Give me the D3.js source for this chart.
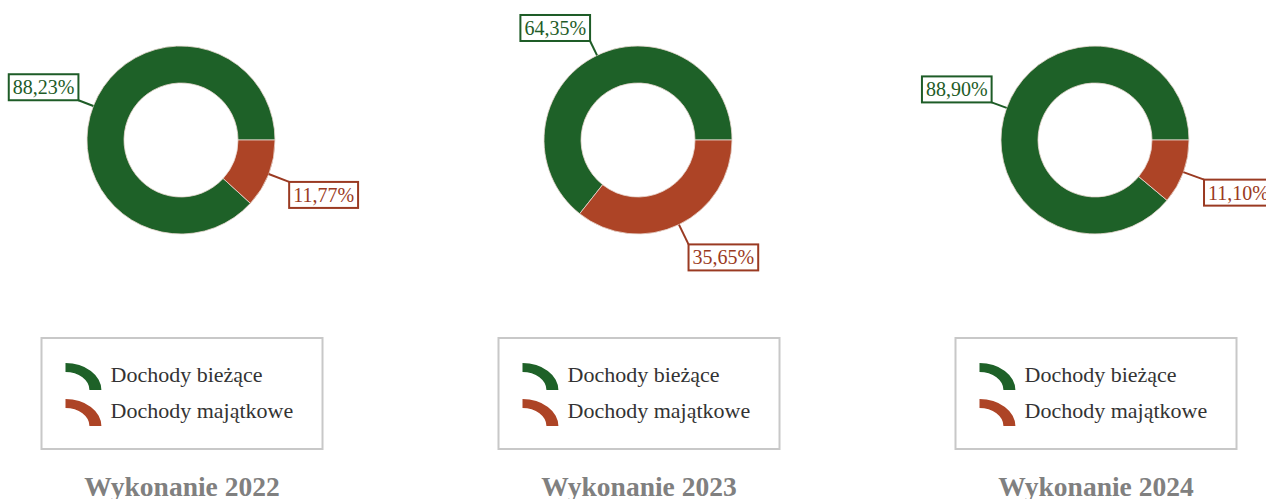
<!DOCTYPE html>
<html>
<head>
<meta charset="utf-8">
<script src="https://cdn.jsdelivr.net/npm/d3@7"></script>
<style>
  body { margin: 0; background: #fff; }
  svg { display: block; }
</style>
</head>
<body>
<div id="chart"></div>
<script>
// values
var years = ["2022", "2023", "2024"];
var biezace = [88.23, 64.35, 88.90];
var majatkowe = [11.77, 35.65, 11.10];
var seriesNames = ["Dochody bieżące", "Dochody majątkowe"];
var fillColors = ["#1e6128", "#ad4426"];
var labelColors = ["#1e5c27", "#9a3a22"];

var svgWidth = 1266;
var svgHeight = 499;

var svg = d3.select("#chart")
  .append("svg")
  .attr("width", svgWidth)
  .attr("height", svgHeight);

// centres of the three panels
var xCenter = d3.scalePoint()
  .domain(years)
  .range([181, 1095]);

var cy = 140;
var outerR = 94;
var innerR = 57;

var pie = d3.pie()
  .sort(null)
  .value(d => d)
  .startAngle(Math.PI / 2 + 2 * Math.PI)
  .endAngle(Math.PI / 2);

var arc = d3.arc().innerRadius(innerR).outerRadius(outerR);

var fmt = v => v.toFixed(2).replace(".", ",") + "%";
var serif = "'Liberation Serif', 'Times New Roman', serif";

years.forEach(function(year, i) {
  var cx = xCenter(year);
  var values = [biezace[i], majatkowe[i]];
  var g = svg.append("g").attr("transform", `translate(${cx}, ${cy})`);

  var slices = pie(values);

  g.selectAll("path.slice")
    .data(slices)
    .enter()
    .append("path")
    .attr("class", "slice")
    .attr("d", arc)
    .attr("fill", (d, j) => fillColors[j])
    .attr("stroke", "#e8d8d0")
    .attr("stroke-width", 0.8);

  // labels with leader lines
  slices.forEach(function(s, j) {
    var a = (s.startAngle + s.endAngle) / 2;
    var sx = Math.sin(a), sy = -Math.cos(a);
    var len = j === 0 ? 16 : 22;
    var x0 = sx * outerR, y0 = sy * outerR;
    var x1 = sx * (outerR + len), y1 = sy * (outerR + len);

    g.append("line")
      .attr("x1", x0).attr("y1", y0)
      .attr("x2", x1).attr("y2", y1)
      .attr("stroke", labelColors[j])
      .attr("stroke-width", 2);

    var lab = g.append("g");
    var rect = lab.append("rect")
      .attr("fill", "#fff")
      .attr("stroke", labelColors[j])
      .attr("stroke-width", 2);
    var txt = lab.append("text")
      .attr("font-family", serif)
      .attr("font-size", 20)
      .attr("fill", labelColors[j])
      .attr("text-anchor", "middle")
      .text(fmt(values[j]));

    var tw = txt.node().getComputedTextLength();
    var bw = tw + 8, bh = 26;
    var bx = sx >= 0 ? x1 : x1 - bw;
    var by = sy >= 0 ? y1 : y1 - bh;
    rect.attr("x", bx).attr("y", by).attr("width", bw).attr("height", bh);
    txt.attr("x", bx + bw / 2).attr("y", by + 20);
  });

  // legend
  var lw = 281, lh = 111;
  var lx = cx - lw / 2 + 1, ly = 338;
  var leg = svg.append("g").attr("transform", `translate(${lx}, ${ly})`);
  leg.append("rect")
    .attr("width", lw).attr("height", lh)
    .attr("fill", "#fff")
    .attr("stroke", "#c8c8c8")
    .attr("stroke-width", 2);

  var iconArc = d3.arc()
    .innerRadius(18).outerRadius(27)
    .startAngle(0).endAngle(Math.PI / 2);

  seriesNames.forEach(function(name, j) {
    var iy = 25 + j * 36;
    leg.append("path")
      .attr("d", iconArc())
      .attr("transform", `translate(24, ${iy + 27}) scale(1.33, 1)`)
      .attr("fill", fillColors[j]);
    leg.append("text")
      .attr("x", 69)
      .attr("y", iy + 19)
      .attr("font-family", serif)
      .attr("font-size", 22)
      .attr("fill", "#333")
      .text(name);
  });

  // title (cut by the bottom edge, as in the original)
  svg.append("text")
    .attr("x", cx + 1)
    .attr("y", 496)
    .attr("text-anchor", "middle")
    .attr("font-family", serif)
    .attr("font-weight", "bold")
    .attr("font-size", 27.5)
    .attr("fill", "#808080")
    .text("Wykonanie " + year);
});
</script>
</body>
</html>
